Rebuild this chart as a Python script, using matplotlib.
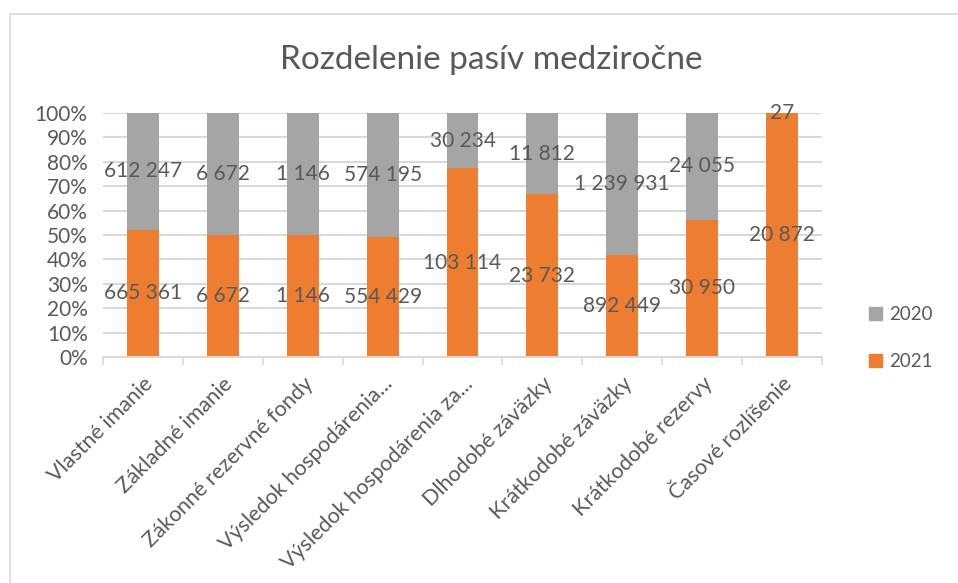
import numpy as np
import matplotlib.pyplot as plt
from matplotlib.patches import Rectangle, Patch

categories = ["Vlastné imanie", "Základné imanie", "Zákonné rezervné fondy",
              "Výsledok hospodárenia...", "Výsledok hospodárenia za...",
              "Dlhodobé záväzky", "Krátkodobé záväzky", "Krátkodobé rezervy",
              "Časové rozlíšenie"]
v2021 = [665361, 6672, 1146, 554429, 103114, 23732, 892449, 30950, 20872]
v2020 = [612247, 6672, 1146, 574195, 30234, 11812, 1239931, 24055, 27]

c2021 = "#ED7D31"
c2020 = "#A5A5A5"
txt = "#595959"
grid = "#D9D9D9"

plt.rcParams['font.family'] = ['Lato', 'DejaVu Sans']


def fmt(v):
    return "{:,}".format(v).replace(",", " ")


a = np.array(v2021, dtype=float)
b = np.array(v2020, dtype=float)
tot = a + b
p21 = a / tot * 100
p20 = b / tot * 100
x = np.arange(len(categories))

fig = plt.figure(figsize=(9.58, 5.83), dpi=100)
fig.patches.append(Rectangle((10 / 958, -0.1), 1.2, (583 - 14) / 583 + 0.1,
                             transform=fig.transFigure, fill=False,
                             edgecolor=grid, linewidth=1.2))
ax = fig.add_axes([103 / 958, (583 - 357) / 583, 719 / 958, 244 / 583])

ax.bar(x, p21, width=0.4, color=c2021, zorder=2)
ax.bar(x, p20, width=0.4, bottom=p21, color=c2020, zorder=2)

for i in range(len(x)):
    ax.text(x[i], p21[i] / 2, fmt(v2021[i]), ha='center', va='center',
            fontsize=15, color=txt, zorder=3)
    ax.text(x[i], p21[i] + p20[i] / 2, fmt(v2020[i]), ha='center', va='center',
            fontsize=15, color=txt, zorder=3)

ax.set_xlim(-0.5, len(x) - 0.5)
ax.set_ylim(0, 100)
ax.set_yticks(np.arange(0, 101, 10))
ax.set_yticklabels([f"{t}%" for t in range(0, 101, 10)])
ax.yaxis.grid(True, color=grid, linewidth=1.5, zorder=0)
ax.tick_params(axis='y', length=0, pad=11, labelsize=15, labelcolor=txt)

ax.set_xticks(x)
ax.set_xticklabels(categories, rotation=45, ha='right', va='top',
                   rotation_mode='anchor')
ax.set_xticks(np.arange(-0.5, len(x), 1), minor=True)
ax.tick_params(axis='x', which='major', length=0, pad=12, labelsize=15.5,
               labelcolor=txt)
ax.tick_params(axis='x', which='minor', length=6, width=1.2, color=grid)

for s in ['top', 'right', 'left']:
    ax.spines[s].set_visible(False)
ax.spines['bottom'].set_color(grid)
ax.spines['bottom'].set_linewidth(1.5)

fig.text(491 / 958, 1 - 60 / 583, "Rozdelenie pasív medziročne", ha='center',
         va='center', fontsize=24, color=txt)

handles = [Patch(color=c2020, label="2020"), Patch(color=c2021, label="2021")]
fig.legend(handles=handles, loc='center left',
           bbox_to_anchor=(852 / 958, 1 - 338 / 583), frameon=False,
           fontsize=13.5, labelcolor=txt, handlelength=0.7, handleheight=0.7,
           handletextpad=0.4, labelspacing=1.6)

fig.savefig("out.png", dpi=100)
